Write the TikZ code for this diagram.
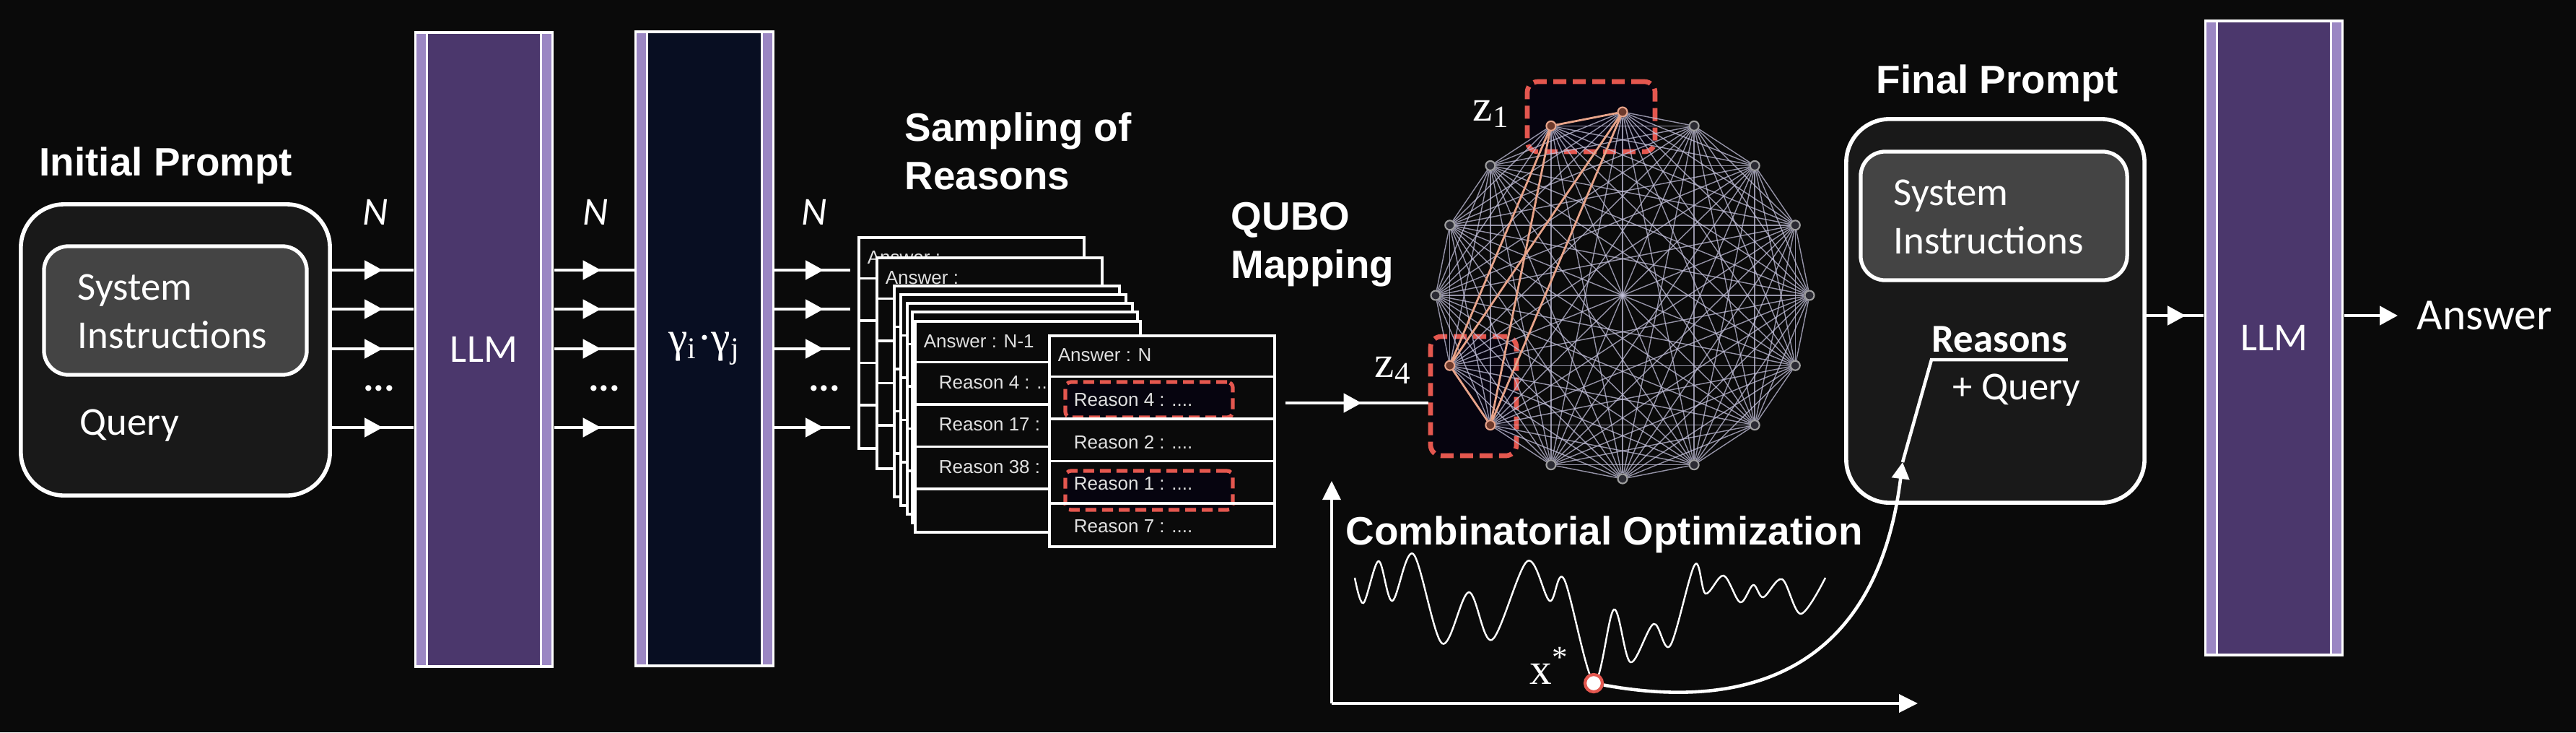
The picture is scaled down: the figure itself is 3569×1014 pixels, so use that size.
\documentclass[tikz,border=0pt]{standalone}
\usepackage{fontspec}
\setmainfont{Carlito}
\setsansfont{Liberation Sans}
\newfontfamily\timesfont{Liberation Serif}
\usetikzlibrary{
  arrows.meta,
  positioning,
  calc,
  decorations.markings
}
\definecolor{qbBg}{HTML}{0A0A0A}
\definecolor{qbPanel}{HTML}{191919}
\definecolor{qbSys}{HTML}{444444}
\definecolor{qbPurple}{HTML}{4B376C}
\definecolor{qbLav}{HTML}{9B87C3}
\definecolor{qbNavy}{HTML}{080E22}
\definecolor{qbRed}{HTML}{E4574F}
\definecolor{qbSalmon}{HTML}{E8A48A}
\definecolor{qbEdge}{HTML}{C4C2DC}
\definecolor{qbHole}{HTML}{06040F}
\definecolor{qbDot}{HTML}{2B2B33}
\definecolor{qbDotRed}{HTML}{6E3A2C}
\tikzset{
  heading/.style={font=\sffamily\bfseries\fontsize{15.6}{19}\selectfont, text=white,
    inner sep=0pt, anchor=base west, align=left},
  plain/.style={font=\fontsize{15.6}{19}\selectfont, text=white,
    inner sep=0pt, anchor=base west, align=left},
  mathlbl/.style={font=\timesfont\fontsize{17.5}{20}\selectfont, text=white, inner sep=0pt},
  panel/.style={draw=white, line width=1.6pt, fill=qbPanel, rounded corners=0.6cm, inner sep=0pt},
  sysbox/.style={draw=white, line width=1.5pt, fill=qbSys, rounded corners=0.34cm, inner sep=0pt},
  llmbar/.style={fill=white, inner sep=0pt, minimum width=1.93cm, minimum height=8.82cm,
    text=white, font=\fontsize{15.6}{19}\selectfont,
    path picture={
      \fill[qbLav] ([xshift=0.03cm, yshift=-0.04cm]path picture bounding box.north west)
        rectangle ([xshift=0.16cm, yshift=0.04cm]path picture bounding box.south west);
      \fill[qbLav] ([xshift=-0.03cm, yshift=-0.04cm]path picture bounding box.north east)
        rectangle ([xshift=-0.16cm, yshift=0.04cm]path picture bounding box.south east);
      \fill[#1] ([xshift=0.19cm, yshift=-0.04cm]path picture bounding box.north west)
        rectangle ([xshift=-0.19cm, yshift=0.04cm]path picture bounding box.south east);
    }},
  feed/.style={draw=white, color=white, line width=1.3pt,
    postaction={decorate, decoration={markings,
      mark=at position #1 with {\arrow{Triangle[length=0.25cm, width=0.26cm]}}}}},
  link/.style={draw=white, color=white, line width=1.3pt},
  axisline/.style={draw=white, color=white, line width=1pt, -{Triangle[length=0.26cm, width=0.25cm]}},
  wave/.style={draw=white, line width=0.7pt},
  card/.style={draw=white, line width=1pt, fill=qbBg, minimum width=3.12cm,
    minimum height=2.92cm, inner sep=0pt},
  cardrule/.style={draw=white, line width=1pt},
  cardtxt/.style={font=\sffamily\fontsize{7.4}{9}\selectfont, text=white!88!black,
    inner sep=0pt, anchor=west},
  pick/.style={draw=qbRed, line width=1.5pt, dash pattern=on 0.15cm off 0.08cm,
    rounded corners=0.08cm, fill=qbHole, inner sep=0pt},
  zbox/.style={draw=qbRed, line width=1.9pt, dash pattern=on 0.18cm off 0.09cm,
    rounded corners=0.15cm, fill=qbHole, inner sep=0pt},
  gnode/.style={circle, draw=gray!75, fill=qbDot, line width=0.6pt, minimum size=0.13cm, inner sep=0pt},
  gred/.style={gnode, draw=qbSalmon, fill=qbDotRed},
  gedge/.style={draw=qbEdge, line width=0.4pt, opacity=0.75},
  gpick/.style={draw=qbSalmon, line width=0.8pt},
  optimum/.style={circle, draw=qbRed, fill=white, line width=1.2pt, minimum size=0.24cm, inner sep=0pt}
}

\begin{document}
\begin{tikzpicture}[x=0.01cm, y=-0.01cm]
  \fill[qbBg] (0,0) rectangle (3569,1014);
  \useasboundingbox (0,0) rectangle (3569,1014);

  % initial prompt
  \node[heading] (iniTitle) at (54,243) {Initial Prompt};
  \node[panel, minimum width=4.28cm, minimum height=4.03cm] (iniPanel) at (243,484.5) {};
  \node[sysbox, minimum width=3.64cm, minimum height=1.78cm] (iniSys) at (243,430) {};
  \node[plain] (iniSysTxt) at (107,482) {System\\Instructions};
  \node[plain] (iniQuery) at (110,602) {Query};

  % bars
  \node[llmbar=qbPurple] (llmIn) at (670.5,484) {LLM};
  \node[llmbar=qbNavy, font=\timesfont\fontsize{17}{19}\selectfont] (gram) at (976,483)
    {γ\textsubscript{i}·γ\textsubscript{j}};
  \node[llmbar=qbPurple] (llmOut) at (3150.5,468) {LLM};

  % stack of sampled answers
  \foreach \cn/\cx/\cy/\hd in {c1/1190/329/{Answer :}, c2/1215/357/{Answer :},
      c3/1239/396/{}, c4/1248/408/{}, c5/1257/420/{}, c6/1264/432/{},
      c7/1268/445/{Answer : N-1}} {
    \node[card] (\cn) at (\cx+156, \cy+146) {};
    \foreach \k in {1,...,4}
      \draw[cardrule] ($(\cn.north west)+(0,\k*58.4)$) -- ($(\cn.north east)+(0,\k*58.4)$);
    \node[cardtxt] (\cn-hd) at ($(\cn.north west)+(13,30)$) {\hd};
  }
  \node[cardtxt] (c7-r1) at ($(c7.north west)+(34,87)$) {Reason 4 : ....};
  \node[cardtxt] (c7-r2) at ($(c7.north west)+(34,145)$) {Reason 17 : ....};
  \node[cardtxt] (c7-r3) at ($(c7.north west)+(34,203)$) {Reason 38 : ....};

  \node[card] (cN) at (1610,611) {};
  \node[pick, minimum width=2.32cm, minimum height=0.49cm] (pickA) at (1592,553.5) {};
  \node[pick, minimum width=2.32cm, minimum height=0.54cm] (pickB) at (1592,679) {};
  \foreach \k in {1,...,4}
    \draw[cardrule] ($(cN.north west)+(0,\k*58.4)$) -- ($(cN.north east)+(0,\k*58.4)$);
  \node[cardtxt] (cN-hd) at ($(cN.north west)+(13,29)$) {Answer : N};
  \node[cardtxt] (cN-r1) at ($(cN.north west)+(35,90)$) {Reason 4 : ....};
  \node[cardtxt] (cN-r2) at ($(cN.north west)+(35,149)$) {Reason 2 : ....};
  \node[cardtxt] (cN-r3) at ($(cN.north west)+(35,206)$) {Reason 1 : ....};
  \node[cardtxt] (cN-r4) at ($(cN.north west)+(35,265)$) {Reason 7 : ....};
  \node[heading] (sampTitle) at (1253,262) {Sampling of\\Reasons};

  % N parallel samples
  \foreach \y [count=\i] in {374,428,483,592}
    \coordinate (row\i) at (0,\y);
  \foreach \i in {1,...,4} {
    \draw[feed=-0.43cm] (iniPanel.east |- row\i) -- (llmIn.west |- row\i);
    \draw[feed=-0.46cm] (llmIn.east |- row\i) -- (gram.west |- row\i);
    \draw[feed=-0.37cm] (gram.east |- row\i) -- ($(c1.west |- row\i)+(-10,0)$);
  }
  \foreach \nn/\x in {nA/520, nB/825, nC/1128}
    \node[plain, font=\itshape\fontsize{15.6}{19}\selectfont, anchor=center] (\nn) at (\x,294) {N};
  \foreach \dd/\x in {dA/525, dB/837, dC/1142}
    \node[plain, font=\bfseries\fontsize{15.6}{19}\selectfont, anchor=base] (\dd) at (\x,541) {...};

  % QUBO mapping
  \node[heading] (quboTitle) at (1705,385) {QUBO\\Mapping};
  \node[zbox, minimum width=1.77cm, minimum height=0.97cm] (zOne) at (2204.5,161.5) {};
  \node[zbox, minimum width=1.19cm, minimum height=1.65cm] (zFour) at (2041.5,548.5) {};
  \coordinate (qStart) at (1781,558);
  \draw[feed=-0.92cm] (qStart) -- (zFour.west |- qStart);
  \node[mathlbl] (zOneLbl) at (2066,158) {z\textsubscript{1}};
  \node[mathlbl] (zFourLbl) at (1930,513) {z\textsubscript{4}};

  % complete graph
  \foreach \k/\st in {0/gred, 1/gred, 2/gnode, 3/gnode, 4/gnode, 5/gred, 6/gred, 7/gnode,
      8/gnode, 9/gnode, 10/gnode, 11/gnode, 12/gnode, 13/gnode, 14/gnode, 15/gnode}
    \node[\st] (v\k) at ({2248+259*cos(90+22.5*\k)}, {409-254*sin(90+22.5*\k)}) {};
  \foreach \a in {0,...,14} {
    \pgfmathtruncatemacro\nxt{\a+1}
    \foreach \b in {\nxt,...,15}
      \draw[gedge] (v\a) -- (v\b);
  }
  \foreach \a/\b in {0/1, 0/5, 0/6, 1/5, 1/6, 5/6}
    \draw[gpick] (v\a) -- (v\b);

  % combinatorial optimization
  \coordinate (orig) at (1845,974);
  \coordinate (yTop) at (1845,666);
  \coordinate (xEnd) at (2657,974);
  \draw[axisline] (orig) -- (yTop);
  \draw[axisline] (orig) -- (xEnd);
  \node[heading] (coTitle) at (1864,754) {Combinatorial Optimization};
  \draw[wave] plot[smooth, tension=0.55] coordinates {
    (1877,800) (1889,835) (1910,777) (1929,832) (1958,767) (1998,891) (2035,820)
    (2067,886) (2116,777) (2147,832) (2167,802) (2208,944) (2236,844) (2259,917)
    (2291,864) (2314,894) (2348,782) (2363,822) (2388,797) (2411,834) (2429,810)
    (2443,827) (2469,802) (2495,850) (2529,800)};
  \node[optimum] (xstar) at (2208,946) {};
  \node[mathlbl, anchor=base west] (xLbl) at (2119,947) {x\textsuperscript{*}};

  % final prompt
  \node[heading] (finTitle) at (2599,129) {Final Prompt};
  \node[panel, minimum width=4.13cm, minimum height=5.31cm] (finPanel) at (2764.5,430.5) {};
  \node[sysbox, minimum width=3.69cm, minimum height=1.78cm] (finSys) at (2762.5,299) {};
  \node[plain] (finSysTxt) at (2623,351) {System\\Instructions};
  \node[plain, font=\bfseries\fontsize{15.6}{19}\selectfont, inner ysep=0.1cm] (rsn) at (2676,487) {Reasons};
  \node[plain] (finQuery) at (2705,553) {+ Query};
  \coordinate (arrTip) at (2636,640);
  \draw[link, -{Triangle[length=0.23cm, width=0.24cm]}] (xstar) .. controls (2420,985) and (2600,930) .. (arrTip);
  \draw[link] (arrTip) -- (rsn.south west) -- (rsn.south east);

  % answer
  \coordinate (outRow) at (0,437);
  \node[plain, font=\fontsize{17.5}{20}\selectfont] (ans) at (3348,456) {Answer};
  \draw[feed=-0.25cm] (finPanel.east |- outRow) -- (llmOut.west |- outRow);
  \draw[link, -{Triangle[length=0.25cm, width=0.26cm]}] (llmOut.east |- outRow) -- ($(ans.west |- outRow)+(-26,0)$);
\end{tikzpicture}
\end{document}
